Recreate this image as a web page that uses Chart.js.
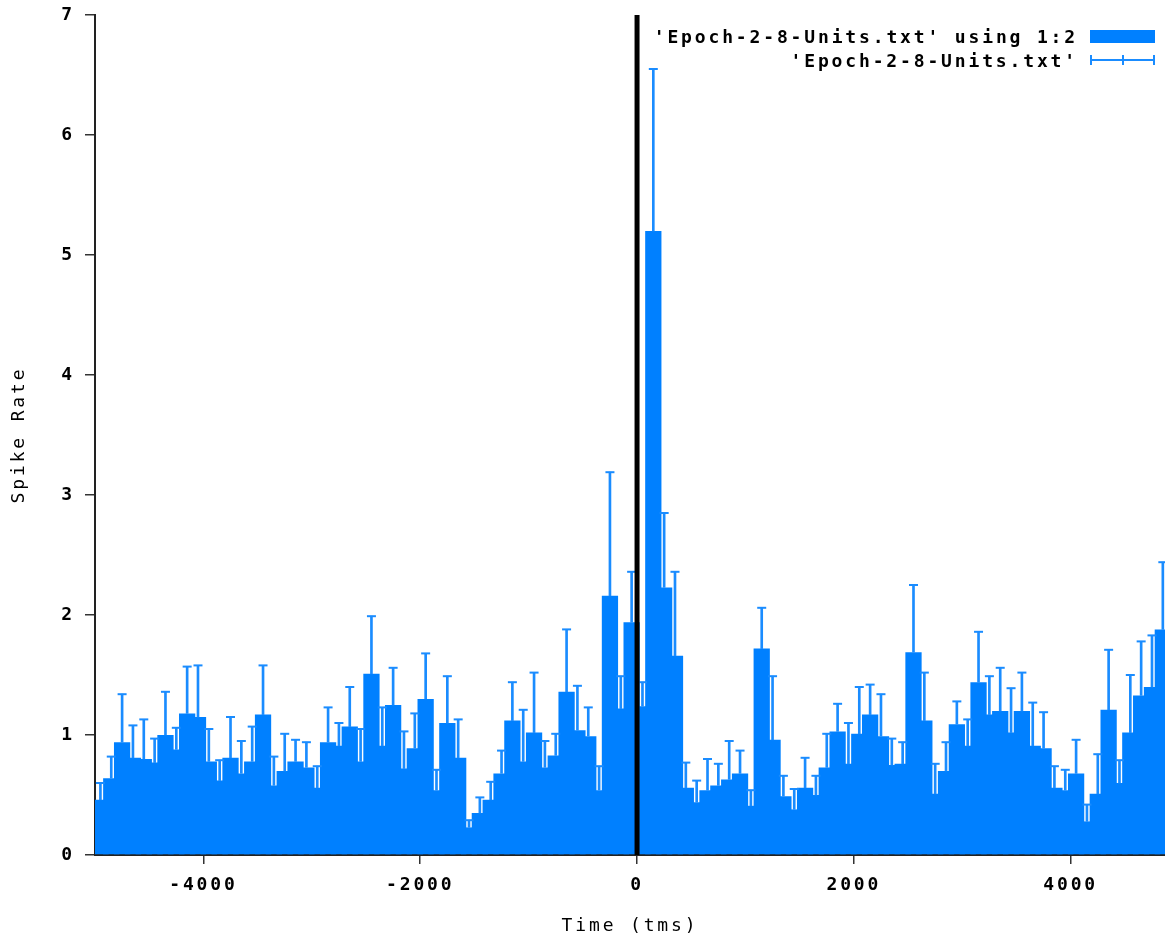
<!DOCTYPE html>
<html>
<head>
<meta charset="utf-8">
<title>Epoch-2-8-Units</title>
<script src="https://cdn.jsdelivr.net/npm/chart.js@4/dist/chart.umd.min.js"></script>
<style>
  html, body { margin: 0; padding: 0; background: #fff; }
  #wrap { position: relative; width: 1165px; height: 941px; }
  #key {
    position: absolute; top: 24px; right: 10px;
    font: bold 18px "DejaVu Sans Mono", monospace;
    letter-spacing: 2.85px; color: #000;
  }
  #key .row { display: flex; align-items: center; justify-content: flex-end; height: 24px; }
  #key .row span { margin-right: 12px; }
  #key .box { width: 65px; height: 13px; background: #0080ff; }
  #key .err {
    position: relative; width: 61px; height: 10px;
    border-left: 2px solid #1a8cff; border-right: 2px solid #1a8cff;
  }
  #key .err::before {
    content: ""; position: absolute; left: 0; right: 0; top: 4px; height: 2px; background: #1a8cff;
  }
  #key .err::after {
    content: ""; position: absolute; left: 30px; top: 0; width: 2px; height: 10px; background: #1a8cff;
  }
</style>
</head>
<body>
<div id="wrap">
  <canvas id="chart" width="1165" height="941"></canvas>
  <div id="key">
    <div class="row"><span>'Epoch-2-8-Units.txt' using 1:2</span><i class="box"></i></div>
    <div class="row"><span>'Epoch-2-8-Units.txt'</span><i class="err"></i></div>
  </div>
</div>
<script>
// bin centres (ms)
const times = [
  -4950, -4850, -4750, -4650, -4550, -4450, -4350, -4250, -4150, -4050,
  -3950, -3850, -3750, -3650, -3550, -3450, -3350, -3250, -3150, -3050,
  -2950, -2850, -2750, -2650, -2550, -2450, -2350, -2250, -2150, -2050,
  -1950, -1850, -1750, -1650, -1550, -1450, -1350, -1250, -1150, -1050,
  -950, -850, -750, -650, -550, -450, -350, -250, -150, -50,
  50, 150, 250, 350, 450, 550, 650, 750, 850, 950,
  1050, 1150, 1250, 1350, 1450, 1550, 1650, 1750, 1850, 1950,
  2050, 2150, 2250, 2350, 2450, 2550, 2650, 2750, 2850, 2950,
  3050, 3150, 3250, 3350, 3450, 3550, 3650, 3750, 3850, 3950,
  4050, 4150, 4250, 4350, 4450, 4550, 4650, 4750, 4850
];

// spike rate per bin (column 2)
const rates = [
  0.46, 0.64, 0.94, 0.81, 0.80, 0.77, 1.00, 0.88, 1.18, 1.15,
  0.78, 0.62, 0.81, 0.68, 0.78, 1.17, 0.58, 0.70, 0.78, 0.73,
  0.56, 0.94, 0.91, 1.07, 0.78, 1.51, 0.91, 1.25, 0.72, 0.89,
  1.30, 0.54, 1.10, 0.81, 0.23, 0.35, 0.46, 0.68, 1.12, 0.78,
  1.02, 0.73, 0.83, 1.36, 1.04, 0.99, 0.54, 2.16, 1.22, 1.94,
  1.24, 5.20, 2.23, 1.66, 0.56, 0.44, 0.54, 0.58, 0.63, 0.68,
  0.41, 1.72, 0.96, 0.49, 0.38, 0.56, 0.50, 0.73, 1.03, 0.76,
  1.01, 1.17, 0.99, 0.75, 0.76, 1.69, 1.12, 0.51, 0.70, 1.09,
  0.91, 1.44, 1.17, 1.20, 1.02, 1.20, 0.91, 0.89, 0.56, 0.54,
  0.68, 0.28, 0.51, 1.21, 0.60, 1.02, 1.33, 1.40, 1.88
];

// error per bin (column 3)
const errors = [
  0.14, 0.18, 0.40, 0.27, 0.33, 0.20, 0.36, 0.18, 0.39, 0.43,
  0.27, 0.17, 0.34, 0.27, 0.29, 0.41, 0.24, 0.31, 0.18, 0.21,
  0.18, 0.29, 0.19, 0.33, 0.27, 0.48, 0.32, 0.31, 0.31, 0.29,
  0.38, 0.17, 0.39, 0.32, 0.06, 0.13, 0.15, 0.19, 0.32, 0.43,
  0.50, 0.22, 0.18, 0.52, 0.37, 0.24, 0.20, 1.03, 0.27, 0.42,
  0.20, 1.35, 0.62, 0.70, 0.21, 0.18, 0.26, 0.18, 0.32, 0.19,
  0.13, 0.34, 0.53, 0.17, 0.17, 0.25, 0.16, 0.28, 0.23, 0.34,
  0.39, 0.25, 0.35, 0.22, 0.18, 0.56, 0.40, 0.25, 0.24, 0.19,
  0.22, 0.42, 0.32, 0.36, 0.37, 0.32, 0.36, 0.30, 0.18, 0.17,
  0.28, 0.14, 0.33, 0.50, 0.19, 0.48, 0.45, 0.43, 0.56
];

const xTicks = [-4000, -2000, 0, 2000, 4000];
const yTicks = [0, 1, 2, 3, 4, 5, 6, 7];
const xMin = -5000;
const xMax = 4870;
const yMin = 0;
const yMax = 7;
const onsetLine = [{ x: 0, y: yMin }, { x: 0, y: yMax }];

const BLUE = "#0080ff";
const ERR_BLUE = "#1a8cff";
const MONO = "'DejaVu Sans Mono', monospace";

const barData = times.map((t, i) => ({ x: t, y: rates[i] }));
const errData = times.map((t, i) => ({ x: t, y: [rates[i], rates[i] + errors[i]] }));
const capData = times.map((t, i) => ({ x: t, y: rates[i] + errors[i] }));

// gnuplot-ish wide text
const textSpacing = {
  id: "textSpacing",
  beforeLayout(chart) { chart.ctx.letterSpacing = "2.85px"; },
  beforeDraw(chart) { chart.ctx.letterSpacing = "2.85px"; }
};

function noEdgePadding(scale) {
  scale.paddingTop = 0;
  scale.paddingBottom = 0;
  scale.paddingLeft = 0;
  scale.paddingRight = 0;
}

new Chart(document.getElementById("chart"), {
  type: "bar",
  data: {
    datasets: [
      {
        type: "line",
        data: onsetLine,
        borderColor: "#000",
        borderWidth: 5,
        pointRadius: 0,
        order: 0
      },
      {
        type: "scatter",
        data: capData,
        pointStyle: "line",
        radius: 4.5,
        borderColor: ERR_BLUE,
        borderWidth: 2,
        order: 1
      },
      {
        type: "bar",
        data: errData,
        backgroundColor: ERR_BLUE,
        barThickness: 2,
        grouped: false,
        order: 2
      },
      {
        type: "bar",
        data: barData,
        backgroundColor: BLUE,
        borderWidth: 0,
        barPercentage: 1.5,
        categoryPercentage: 1.0,
        grouped: false,
        order: 3
      }
    ]
  },
  options: {
    responsive: false,
    animation: false,
    devicePixelRatio: 1,
    layout: { autoPadding: false, padding: { top: 15, right: 0, bottom: 0, left: 0 } },
    plugins: {
      legend: { display: false },
      tooltip: { enabled: false }
    },
    scales: {
      x: {
        type: "linear",
        min: xMin,
        max: xMax,
        offset: false,
        afterBuildTicks: scale => { scale.ticks = xTicks.map(v => ({ value: v })); },
        afterFit: scale => { scale.height = 86; noEdgePadding(scale); },
        grid: { drawOnChartArea: false, drawTicks: true, tickLength: 9, color: "#333", lineWidth: 1.5, offset: false },
        border: { display: true, color: "#222", width: 2 },
        ticks: {
          color: "#000",
          font: { family: MONO, size: 18, weight: "bold" },
          padding: 11,
          maxRotation: 0,
          autoSkip: false,
          callback: v => String(v)
        },
        title: {
          display: true,
          text: "Time (tms)",
          color: "#000",
          font: { family: MONO, size: 18 },
          padding: { top: 0, bottom: 4 }
        }
      },
      y: {
        type: "linear",
        min: yMin,
        max: yMax,
        afterBuildTicks: scale => { scale.ticks = yTicks.map(v => ({ value: v })); },
        afterFit: scale => { scale.width = 95; noEdgePadding(scale); },
        grid: { drawOnChartArea: false, drawTicks: true, tickLength: 10, color: "#333", lineWidth: 1.5 },
        border: { display: true, color: "#222", width: 2 },
        ticks: {
          color: "#000",
          font: { family: MONO, size: 18, weight: "bold" },
          padding: 10,
          callback: v => String(v)
        },
        title: {
          display: true,
          text: "Spike Rate",
          color: "#000",
          font: { family: MONO, size: 18 },
          padding: { top: 9, bottom: 0 }
        }
      }
    }
  },
  plugins: [textSpacing]
});
</script>
</body>
</html>
